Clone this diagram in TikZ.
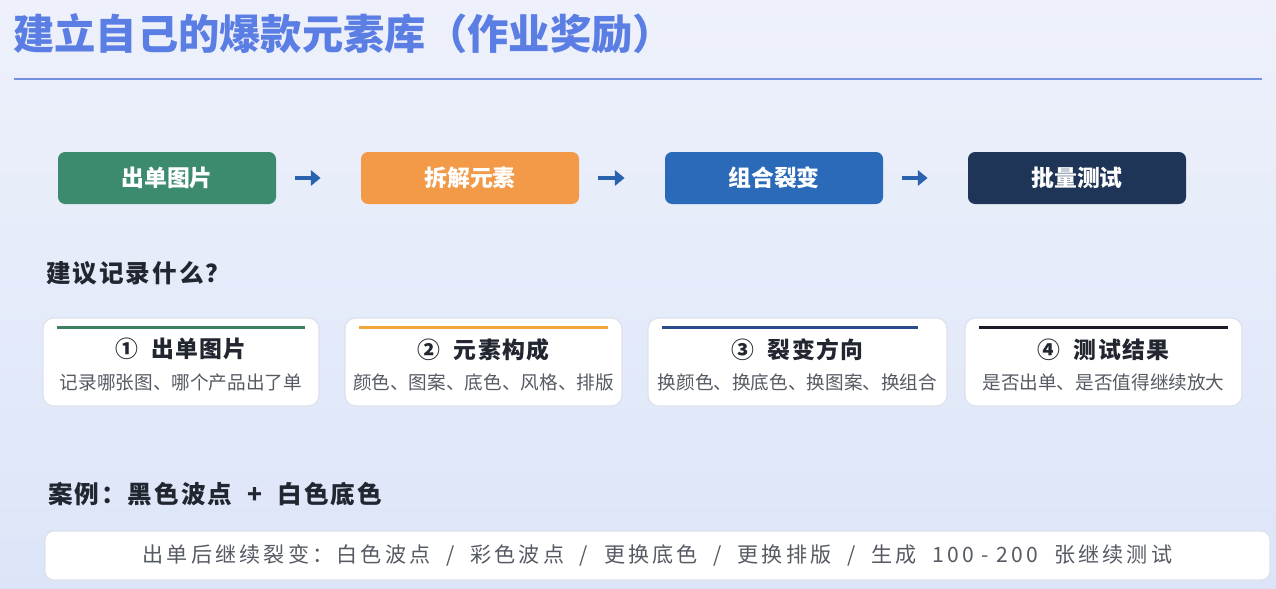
\documentclass[tikz,border=0pt]{standalone}
\usepackage{fontspec}
\setmainfont{Noto Sans CJK SC}
\usetikzlibrary{arrows.meta,calc,positioning}
\definecolor{bgtop}{HTML}{EEF1FB}
\definecolor{bgbot}{HTML}{DCE5F8}
\definecolor{titleblue}{HTML}{5B7EE4}
\definecolor{ruleblue}{HTML}{7391E2}
\definecolor{stepgreen}{HTML}{3D8B6E}
\definecolor{steporange}{HTML}{F29A48}
\definecolor{stepblue}{HTML}{2A6AB8}
\definecolor{stepnavy}{HTML}{1F3557}
\definecolor{arrowblue}{HTML}{2A62B0}
\definecolor{cardline}{HTML}{DCE1EC}
\definecolor{accgreen}{HTML}{3D8060}
\definecolor{accorange}{HTML}{EFA43C}
\definecolor{accblue}{HTML}{2E4A8E}
\definecolor{accblack}{HTML}{1C1C28}
\definecolor{textdark}{HTML}{222630}
\definecolor{textgray}{HTML}{555A63}
\tikzset{
  flowbox/.style={rectangle,rounded corners=4pt,minimum width=4.36cm,minimum height=1.04cm,
    text=white,font=\fontsize{13}{15}\selectfont\bfseries},
  flowarrow/.style={-{Triangle[length=5.5pt,width=8.5pt]},draw=arrowblue,line width=2.3pt,
    shorten <=0.38cm,shorten >=0.8cm},
  card/.style={draw=cardline,line width=0.7pt,fill=white,rounded corners=6pt,minimum height=1.76cm},
  cardhead/.style={text=textdark,font=\fontsize{13}{15}\selectfont\bfseries\addfontfeatures{LetterSpace=6}},
  cardsub/.style={text=textgray,font=\fontsize{10.6}{12}\selectfont},
  section/.style={anchor=west,text=textdark,font=\fontsize{14}{16}\selectfont\bfseries\addfontfeatures{LetterSpace=8}},
  accent/.style={line width=1.3pt}
}
\begin{document}
\begin{tikzpicture}
  % background
  \shade[top color=bgtop,bottom color=bgbot] (0,0) rectangle (25.52,-11.78);
  \useasboundingbox (0,0) rectangle (25.52,-11.78);

  % title and rule
  \node[anchor=west,text=titleblue,font=\fontsize{23.5}{27}\selectfont\bfseries] (title) at (0.14,-0.68) {建立自己的爆款元素库（作业奖励）};
  \coordinate (ruleL) at (0.28,-1.58);
  \coordinate (ruleR) at (25.24,-1.58);
  \draw[ruleblue,line width=1.2pt] (ruleL) -- (ruleR);

  % flow
  \node[flowbox,fill=stepgreen] (f1) at (3.34,-3.56) {出单图片};
  \node[flowbox,fill=steporange] (f2) at (9.40,-3.56) {拆解元素};
  \node[flowbox,fill=stepblue] (f3) at (15.48,-3.56) {组合裂变};
  \node[flowbox,fill=stepnavy] (f4) at (21.54,-3.56) {批量测试};
  \draw[flowarrow] (f1.east) -- (f2.west);
  \draw[flowarrow] (f2.east) -- (f3.west);
  \draw[flowarrow] (f3.east) -- (f4.west);

  % what to record
  \node[section] (ask) at (0.8,-5.46) {建议记录什么？};

  \node[card,minimum width=5.52cm] (c1) at (3.62,-7.24) {};
  \node[card,minimum width=5.54cm] (c2) at (9.67,-7.24) {};
  \node[card,minimum width=5.98cm] (c3) at (15.95,-7.24) {};
  \node[card,minimum width=5.54cm] (c4) at (22.07,-7.24) {};

  \draw[accent,accgreen] ([xshift=0.3cm,yshift=-0.2cm]c1.north west) -- ([xshift=-0.3cm,yshift=-0.2cm]c1.north east);
  \draw[accent,accorange] ([xshift=0.3cm,yshift=-0.2cm]c2.north west) -- ([xshift=-0.3cm,yshift=-0.2cm]c2.north east);
  \draw[accent,accblue] ([xshift=0.3cm,yshift=-0.2cm]c3.north west) -- ([xshift=-0.6cm,yshift=-0.2cm]c3.north east);
  \draw[accent,accblack] ([xshift=0.3cm,yshift=-0.2cm]c4.north west) -- ([xshift=-0.3cm,yshift=-0.2cm]c4.north east);

  \node[cardhead] (h1) at ([yshift=-0.64cm]c1.north) {①\ \ 出单图片};
  \node[cardsub] (s1) at ([yshift=-1.3cm]c1.north) {记录哪张图、哪个产品出了单};
  \node[cardhead] (h2) at ([yshift=-0.64cm]c2.north) {②\ \ 元素构成};
  \node[cardsub] (s2) at ([yshift=-1.3cm]c2.north) {颜色、图案、底色、风格、排版};
  \node[cardhead] (h3) at ([yshift=-0.64cm]c3.north) {③\ \ 裂变方向};
  \node[cardsub] (s3) at ([yshift=-1.3cm]c3.north) {换颜色、换底色、换图案、换组合};
  \node[cardhead] (h4) at ([yshift=-0.64cm]c4.north) {④\ \ 测试结果};
  \node[cardsub] (s4) at ([yshift=-1.3cm]c4.north) {是否出单、是否值得继续放大};

  % example
  \node[section] (case) at (0.84,-9.88) {案例：黑色波点\ \ +\ \ 白色底色};
  \node[card,minimum width=24.5cm,minimum height=0.98cm,rounded corners=5pt,
    text=textgray,font=\fontsize{12}{14}\selectfont\addfontfeatures{LetterSpace=15}] (more) at (13.15,-11.11)
    {出单后继续裂变：白色波点\ \ /\ \ 彩色波点\ \ /\ \ 更换底色\ \ /\ \ 更换排版\ \ /\ \ 生成\ \ 100\ -\ 200\ \ 张继续测试};
\end{tikzpicture}
\end{document}
